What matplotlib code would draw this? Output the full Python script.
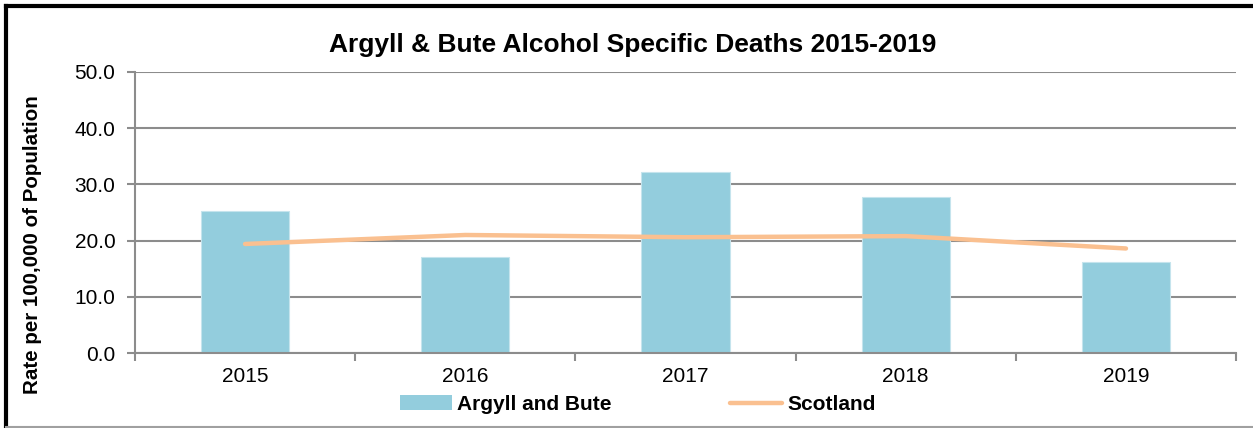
import numpy as np
import matplotlib.pyplot as plt
from matplotlib.lines import Line2D
from matplotlib.patches import Patch

plt.switch_backend('Agg')
plt.rcParams['font.family'] = ['Liberation Sans', 'DejaVu Sans']

years = ['2015', '2016', '2017', '2018', '2019']
argyll_bute = [25.3, 17.1, 32.2, 27.7, 16.2]
scotland = [19.4, 21.0, 20.6, 20.8, 18.6]
y_ticks = [0, 10, 20, 30, 40, 50]

BAR_COLOR = '#93cddd'
LINE_COLOR = '#fac090'
GRID_COLOR = '#8c8c8c'

fig = plt.figure(figsize=(12.53, 4.28), dpi=100)
ax = fig.add_axes([0.1077, 0.1752, 0.8788, 0.6566])

x = np.arange(len(years))
ax.bar(x, argyll_bute, width=0.4, color=BAR_COLOR, edgecolor='#c5e4ed', linewidth=0.8, zorder=2)
ax.plot(x, scotland, color=LINE_COLOR, linewidth=3.2, solid_capstyle='round', zorder=3)

ax.set_xlim(-0.5, len(years) - 0.5)
ax.set_ylim(0, 50)
ax.set_yticks(y_ticks)
ax.set_yticklabels([f'{v:.1f}' for v in y_ticks], fontsize=15)
ax.set_xticks(x)
ax.set_xticklabels(years, fontsize=15)
ax.set_xticks(np.arange(-0.5, len(years), 1.0), minor=True)
ax.tick_params(axis='x', which='major', length=0, pad=10)
ax.tick_params(axis='x', which='minor', length=6, width=1.5, color=GRID_COLOR, direction='out')
ax.tick_params(axis='y', length=6, width=1.5, color=GRID_COLOR, direction='out', pad=8)

ax.grid(axis='y', color=GRID_COLOR, linewidth=1.5, zorder=0)
ax.set_axisbelow(True)
for side in ['top', 'right']:
    ax.spines[side].set_visible(False)
for side in ['left', 'bottom']:
    ax.spines[side].set_color(GRID_COLOR)
    ax.spines[side].set_linewidth(1.5)

ax.set_ylabel('Rate per 100,000 of Population', fontsize=14.8, fontweight='bold')
ax.yaxis.set_label_coords(-0.084, 0.385)

fig.text(0.505, 0.895, 'Argyll & Bute Alcohol Specific Deaths 2015-2019',
         ha='center', va='center', fontsize=19, fontweight='bold')

handles = [Patch(facecolor=BAR_COLOR, edgecolor='none'),
           Line2D([0], [0], color=LINE_COLOR, linewidth=3.2, solid_capstyle='round')]
fig.legend(handles, ['Argyll and Bute', 'Scotland'], loc='center',
           bbox_to_anchor=(0.509, 0.055), ncol=2, frameon=False,
           prop={'size': 15, 'weight': 'bold'}, handlelength=2.5, handleheight=0.75,
           handletextpad=0.25, columnspacing=5.7)

# outer chart border: dark top/left, grey bottom
fig.add_artist(Line2D([0.005, 1.0], [0.985, 0.985], color='black', linewidth=3, transform=fig.transFigure))
fig.add_artist(Line2D([0.005, 0.005], [0.003, 0.985], color='black', linewidth=3, transform=fig.transFigure))
fig.add_artist(Line2D([0.005, 1.0], [0.003, 0.003], color='#a0a0a0', linewidth=1.5, transform=fig.transFigure))

fig.savefig('out.png', dpi=100)
